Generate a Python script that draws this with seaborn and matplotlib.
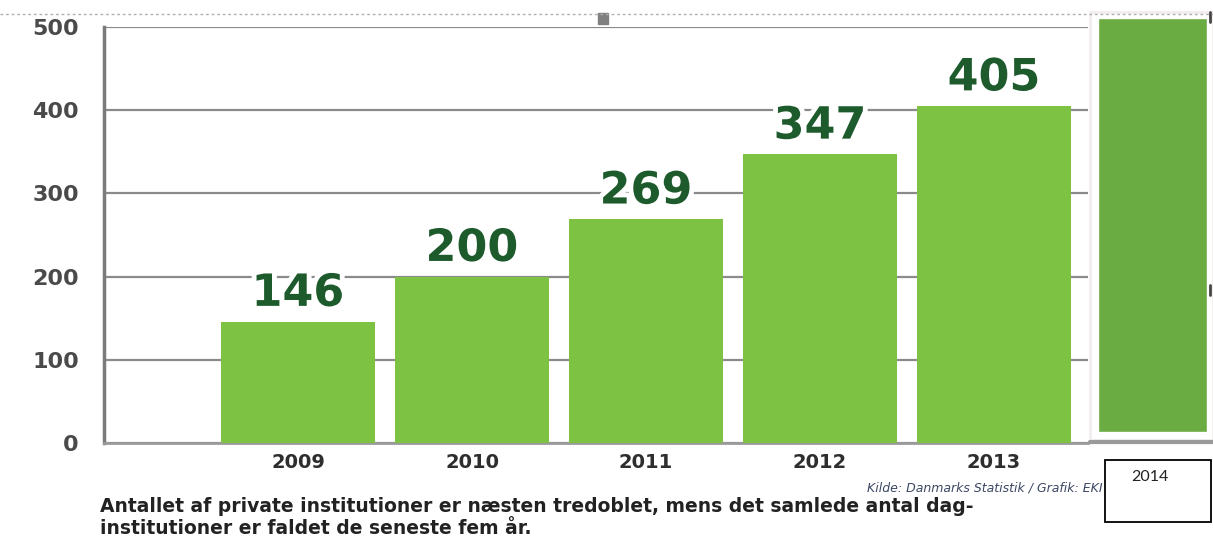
import matplotlib
matplotlib.use('Agg')
import matplotlib.pyplot as plt
import matplotlib.patheffects as pe
from matplotlib.patches import Rectangle
from matplotlib.lines import Line2D
import pandas as pd
import seaborn as sns

# data
years = ['2009', '2010', '2011', '2012', '2013']
counts = [146, 200, 269, 347, 405]
yticks = [0, 100, 200, 300, 400, 500]

# pasted-in 2014 bar (sits past the axis, starts slightly above zero)
extra_label = '2014'
extra_bottom = 13
extra_top = 511

caption = ('Antallet af private institutioner er næsten tredoblet, mens det samlede antal dag-\n'
           'institutioner er faldet de seneste fem år.')
source = 'Kilde: Danmarks Statistik / Grafik: EKI'

BAR_GREEN = '#7dc242'
DARK_GREEN = '#6aab42'
LABEL_GREEN = '#1d5a2c'
NARROW = ['Liberation Sans Narrow', 'DejaVu Sans']

sns.set_style('white')
plt.rcParams['font.family'] = ['DejaVu Sans']

fig = plt.figure(figsize=(12.13, 5.49), dpi=100)
W, H = 1213, 549
ax = fig.add_axes([104 / W, 1 - 443 / H, (1088 - 104) / W, (443 - 27) / H])

df = pd.DataFrame({'year': years, 'count': counts})
sns.barplot(data=df, x='year', y='count', color=BAR_GREEN, saturation=1,
            width=0.89, ax=ax, zorder=3, linewidth=0)

ax.set_xlim(-1.115, 4.54)
ax.set_ylim(0, 500)
ax.set_yticks(yticks)
ax.set(xlabel='', ylabel='')
ax.yaxis.grid(True, color='#8a8a8a', linewidth=1.6, zorder=0)
ax.set_axisbelow(True)

for side in ['top', 'right']:
    ax.spines[side].set_visible(False)
ax.spines['left'].set_color('#7a7a7a')
ax.spines['left'].set_linewidth(2.5)
ax.spines['bottom'].set_color('#9a9a9a')
ax.spines['bottom'].set_linewidth(2)

ax.tick_params(axis='y', length=0, pad=18, labelsize=16, labelcolor='#4a4a4a')
ax.tick_params(axis='x', length=0, pad=7, labelsize=14, labelcolor='#2e2e2e')
for lab in ax.get_yticklabels():
    lab.set_fontweight('bold')
for lab in ax.get_xticklabels():
    lab.set_fontweight('bold')
    lab.set_family(NARROW)

# value labels above the bars, white halo cuts through the grid lines
for bar, value in zip(ax.patches, counts):
    ax.text(bar.get_x() + bar.get_width() / 2, value + 8, f'{value}',
            ha='center', va='bottom', fontsize=32, fontweight='bold',
            color=LABEL_GREEN, zorder=4,
            path_effects=[pe.withStroke(linewidth=7, foreground='white')])

# the 2014 overlay bar
ax.bar(4.91, extra_top - extra_bottom, bottom=extra_bottom, width=0.63,
       color=DARK_GREEN, clip_on=False, zorder=5)

# frame and base line around the pasted piece
fig.add_artist(Rectangle((1090 / W, 1 - 440 / H), 123 / W, 428 / H,
                         facecolor='none', edgecolor='#f2eeee', linewidth=2))
fig.add_artist(Line2D([1090 / W, 1], [1 - 442 / H] * 2, color='#9a9a9a', linewidth=3))
fig.add_artist(Line2D([1210 / W] * 2, [1 - 12 / H, 1 - 22 / H], color='#444', linewidth=2))
fig.add_artist(Line2D([1210 / W] * 2, [1 - 285 / H, 1 - 295 / H], color='#444', linewidth=2))

# dotted guide at the top and the little handle
fig.add_artist(Line2D([0, 1], [1 - 14 / H] * 2, color='#b0b0b0', linewidth=1,
                      linestyle=(0, (2, 2))))
fig.add_artist(Rectangle((598 / W, 1 - 24 / H), 10 / W, 11 / H, color='#808080'))

# source and caption
fig.text(1103 / W, 1 - 488 / H, source, ha='right', va='center', fontsize=9,
         style='italic', color='#3b4763', family=NARROW)
fig.text(100 / W, 1 - 518 / H, caption, ha='left', va='center', fontsize=13.5,
         fontweight='bold', color='#222222', family=NARROW, linespacing=1.2)

# label box for 2014
fig.add_artist(Rectangle((1105 / W, 1 - 522 / H), 106 / W, 62 / H,
                         facecolor='white', edgecolor='black', linewidth=1.3, zorder=10))
fig.text(1150 / W, 1 - 477 / H, extra_label, ha='center', va='center', fontsize=11.5,
         color='#222222', family=['Lato', 'DejaVu Sans'], zorder=11)

fig.savefig('out.png', dpi=100, facecolor='white')
